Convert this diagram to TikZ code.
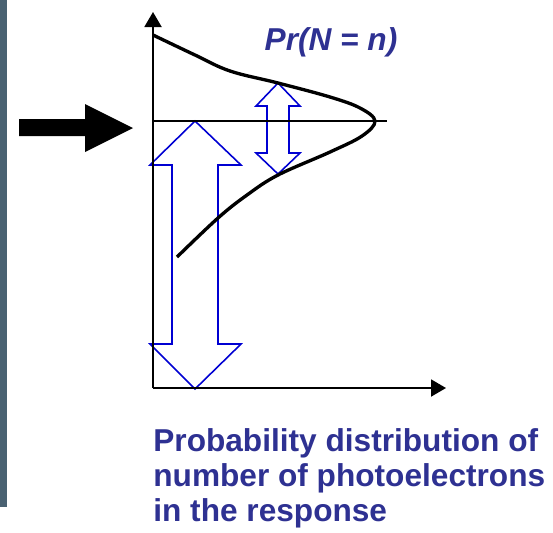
\documentclass[tikz,border=0pt]{standalone}
\usepackage{xcolor}
\usepackage{fontspec}
\setmainfont{Liberation Sans}
\usepackage{tikz}
\usetikzlibrary{arrows.meta,positioning}
\definecolor{labelblue}{RGB}{46,49,146}
\definecolor{arrowblue}{RGB}{0,0,210}
\definecolor{slate}{RGB}{74,98,114}

\begin{document}
\begin{tikzpicture}[
    x=0.02cm, y=-0.02cm,
    axis/.style={line width=1.1pt, -{Triangle[length=0.3cm, width=0.34cm]}},
    curve/.style={line width=1.9pt, black},
    hollow/.style={draw=arrowblue, line width=0.9pt, line join=miter},
    txt/.style={font=\bfseries\fontsize{18}{20}\selectfont, text=labelblue, inner sep=0pt}
]
\useasboundingbox (0,0) rectangle (553,532);
\fill[slate] (0,0) rectangle (7,507);

% double arrows
\draw[hollow] (195,121) -- (241,165) -- (218,165) -- (218,344) -- (241,344)
    -- (195,389) -- (150,344) -- (172,344) -- (172,165) -- (150,165) -- cycle;
\draw[hollow] (278,83) -- (300,106) -- (289,106) -- (289,153) -- (300,153)
    -- (278,174) -- (256,153) -- (267,153) -- (267,106) -- (256,106) -- cycle;

% axes
\coordinate (origin) at (153,388);
\coordinate (ytop) at (153,12);
\coordinate (xend) at (446,388);
\draw[axis] (origin) -- (ytop);
\draw[axis] (origin) -- (xend);
\draw[line width=0.7pt] (153,121) -- (387,121);

% distribution
\draw[curve] plot[smooth, tension=0.6] coordinates {
    (153,35) (195,55) (230,71) (278,83) (330,97) (360,108) (375,121)
    (362,136) (330,152) (278,175) (247,195) (218,218) (177,257)};

% input arrow
\fill (19,119) -- (85,119) -- (85,104) -- (133,128) -- (85,152) -- (85,136)
    -- (19,136) -- cycle;

\node[txt, font=\bfseries\itshape\fontsize{18}{20}\selectfont] (pr) at (331,42) {Pr(N = n)};
\node[txt, align=left, anchor=north west] (caption) at (153,428)
    {Probability distribution of\\number of photoelectrons\\in the response};
\end{tikzpicture}
\end{document}
